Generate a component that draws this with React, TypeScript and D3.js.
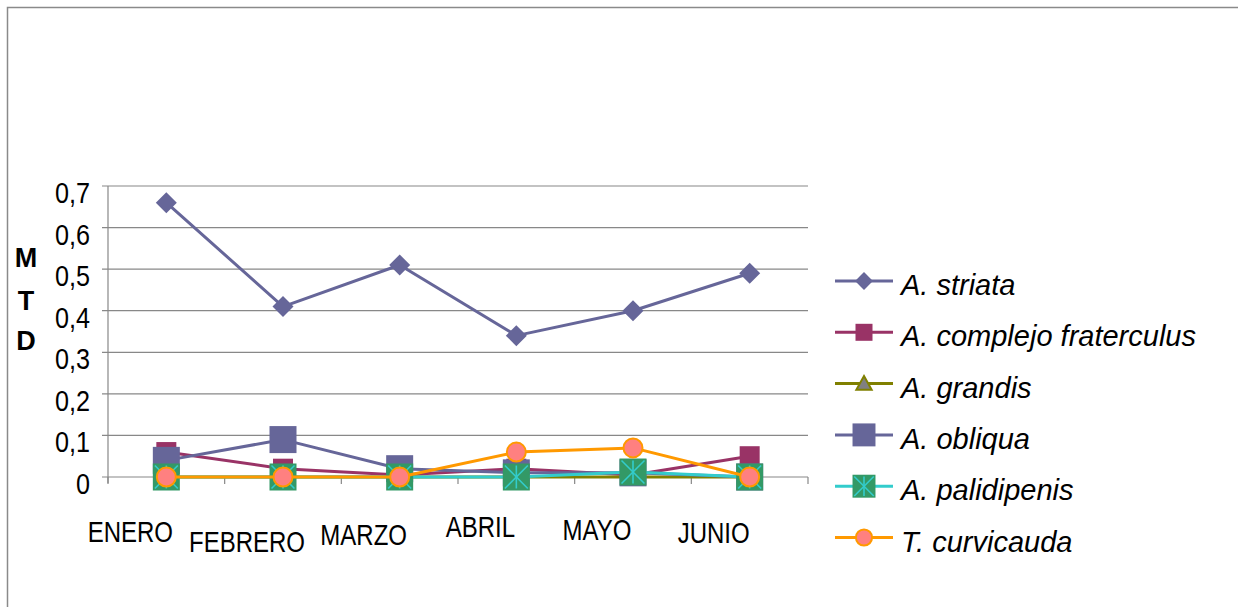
import React from 'react';
import * as d3 from 'd3';

const months = ['ENERO', 'FEBRERO', 'MARZO', 'ABRIL', 'MAYO', 'JUNIO'];
const yTicks = [0, 0.1, 0.2, 0.3, 0.4, 0.5, 0.6, 0.7];

const striata = [0.66, 0.41, 0.51, 0.34, 0.4, 0.49];
const fraterculus = [0.06, 0.02, 0.005, 0.02, 0.005, 0.05];
const grandis = [0, 0, 0, 0, 0, 0];
const obliqua = [0.04, 0.09, 0.02, 0.01, 0.01, 0];
const palidipenis = [0, 0, 0, 0, 0.012, 0];
const curvicauda = [0, 0, 0, 0.06, 0.07, 0];

type Marker = 'diamond' | 'square' | 'triangle' | 'bigsquare' | 'star' | 'circle';

const series: { name: string; values: number[]; color: string; marker: Marker }[] = [
  { name: 'A. striata', values: striata, color: '#666699', marker: 'diamond' },
  { name: 'A. complejo fraterculus', values: fraterculus, color: '#993366', marker: 'square' },
  { name: 'A. grandis', values: grandis, color: '#808000', marker: 'triangle' },
  { name: 'A. obliqua', values: obliqua, color: '#666699', marker: 'bigsquare' },
  { name: 'A. palidipenis', values: palidipenis, color: '#33CCCC', marker: 'star' },
  { name: 'T. curvicauda', values: curvicauda, color: '#FF9900', marker: 'circle' },
];

// desplazamiento vertical de cada etiqueta del eje x (como en la imagen)
const labelDy = [65, 75, 68, 60, 63, 66];

const W = 1238;
const H = 607;
const margin = { left: 108, right: 430, top: 186, bottom: 130 };

const MarkerShape = ({ type, color, x, y, s = 1 }: { type: Marker; color: string; x: number; y: number; s?: number }) => {
  if (type === 'diamond') {
    const r = 10.5 * s;
    return <path d={`M${x},${y - r}L${x + r},${y}L${x},${y + r}L${x - r},${y}Z`} fill={color} />;
  }
  if (type === 'square') {
    const h = 10 * s;
    return <rect x={x - h} y={y - h} width={2 * h} height={2 * h} fill={color} />;
  }
  if (type === 'bigsquare') {
    const h = 13.5 * s;
    return <rect x={x - h} y={y - h} width={2 * h} height={2 * h} fill={color} />;
  }
  if (type === 'triangle') {
    const r = 9 * s;
    return (
      <path
        d={`M${x},${y - r}L${x + r},${y + r * 0.8}L${x - r},${y + r * 0.8}Z`}
        fill="#808080"
        stroke={color}
        strokeWidth={2}
      />
    );
  }
  if (type === 'star') {
    const h = 13.5 * s;
    const a = h * 0.85;
    return (
      <g>
        <rect x={x - h} y={y - h} width={2 * h} height={2 * h} fill="#339966" />
        <g stroke={color} strokeWidth={1.6}>
          <line x1={x} y1={y - a} x2={x} y2={y + a} />
          <line x1={x - a} y1={y - a} x2={x + a} y2={y + a} />
          <line x1={x + a} y1={y - a} x2={x - a} y2={y + a} />
        </g>
      </g>
    );
  }
  return <circle cx={x} cy={y} r={9.5 * s} fill="#FF8080" stroke={color} strokeWidth={2} />;
};

export default function App() {
  const innerW = W - margin.left - margin.right;
  const innerH = H - margin.top - margin.bottom;

  const x = d3.scaleBand().domain(months).range([margin.left, margin.left + innerW]);
  const y = d3.scaleLinear().domain([0, 0.7]).range([margin.top + innerH, margin.top]);
  const cx = (m: string) => (x(m) || 0) + x.bandwidth() / 2;

  const line = d3
    .line<number>()
    .x((_, i) => cx(months[i]))
    .y((d) => y(d));

  const boundaries = d3.range(months.length + 1).map((i) => margin.left + i * x.bandwidth());
  const y0 = y(0);
  const fmt = (v: number) => (v === 0 ? '0' : d3.format('.1f')(v).replace('.', ','));

  const legendX = 835;
  const legendY0 = 281;
  const legendStep = 51.3;

  return (
    <svg
      width={W}
      height={H}
      style={{ position: 'absolute', left: 0, top: 0, background: '#fff' }}
      fontFamily="'Liberation Sans', Arial, sans-serif"
    >
      <rect x={0} y={0} width={W} height={H} fill="#fff" />
      {/* marco */}
      <path d={`M7.5,${H}V7.5H${W}`} fill="none" stroke="#8a8a8a" strokeWidth={1.5} />

      {/* rejilla */}
      {yTicks.map((t) => (
        <g key={t}>
          <line x1={margin.left - 6} x2={margin.left + innerW} y1={y(t)} y2={y(t)} stroke="#888" strokeWidth={1.2} />
          <text
            transform={`translate(90,${y(t) + 17}) scale(0.9,1.05)`}
            textAnchor="end"
            fontSize={28}
            fill="#000"
          >
            {fmt(t)}
          </text>
        </g>
      ))}
      <line x1={margin.left} x2={margin.left} y1={y(0.7)} y2={y0 + 6} stroke="#888" strokeWidth={1.2} />
      {boundaries.map((b, i) => (
        <line key={i} x1={b} x2={b} y1={y0} y2={y0 + 7} stroke="#888" strokeWidth={1.2} />
      ))}

      {/* etiquetas eje x */}
      {months.map((m, i) => (
        <text
          key={m}
          transform={`translate(${cx(m) - 36},${y0 + labelDy[i]}) scale(0.8,1)`}
          textAnchor="middle"
          fontSize={30}
          fill="#000"
        >
          {m}
        </text>
      ))}

      {/* título eje y */}
      <g fontWeight="bold" fontSize={27} textAnchor="middle" fill="#000">
        <text x={26} y={267}>M</text>
        <text x={26} y={310}>T</text>
        <text x={26} y={350}>D</text>
      </g>

      {/* series */}
      {series.map((s) => (
        <g key={s.name}>
          <path d={line(s.values) || ''} fill="none" stroke={s.color} strokeWidth={3} strokeLinejoin="round" />
          {s.values.map((v, i) => (
            <MarkerShape key={i} type={s.marker} color={s.color} x={cx(months[i])} y={y(v)} />
          ))}
        </g>
      ))}

      {/* leyenda */}
      {series.map((s, i) => {
        const ly = legendY0 + i * legendStep;
        return (
          <g key={s.name}>
            <line x1={legendX} x2={legendX + 58} y1={ly} y2={ly} stroke={s.color} strokeWidth={3} />
            <MarkerShape type={s.marker} color={s.color} x={legendX + 29} y={ly} s={0.85} />
            <text x={legendX + 66} y={ly + 14} fontSize={29} fontStyle="italic" fill="#000">
              {s.name}
            </text>
          </g>
        );
      })}
    </svg>
  );
}
